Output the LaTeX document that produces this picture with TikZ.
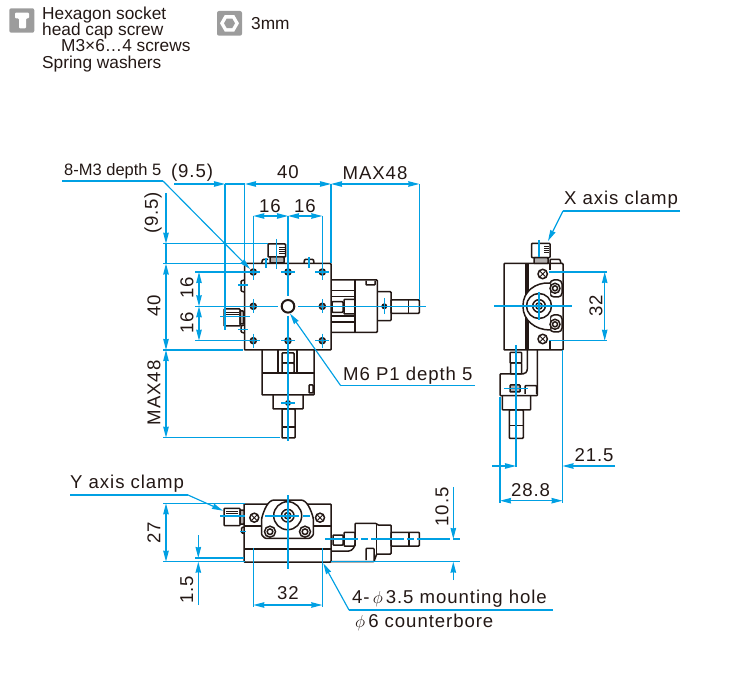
\documentclass[tikz,border=0pt]{standalone}
\usepackage{fontspec}
\setmainfont{Liberation Sans}
\newfontfamily\dimfont[LetterSpace=5]{Liberation Sans}
\usetikzlibrary{arrows.meta,shapes.geometric}

\definecolor{dimblue}{HTML}{00A0E3}
\definecolor{partblack}{HTML}{231815}
\definecolor{icongray}{HTML}{9C9C9C}

\tikzset{
  part/.style={draw=partblack,line width=1.5pt,rounded corners=0.8pt},
  thinpart/.style={draw=partblack,line width=0.9pt},
  dimline/.style={draw=dimblue,line width=1.15pt},
  dimarrow/.style={dimline,<->},
  leader/.style={dimline,->},
  dimlabel/.style={font=\dimfont\fontsize{18.6}{20}\selectfont,text=partblack,inner sep=0pt},
  dimhor/.style={dimlabel,yshift=-1.5pt},
  notelabel/.style={font=\fontsize{17.3}{16.3}\selectfont,text=partblack,inner sep=0pt},
  icon/.style={fill=icongray,rounded corners=2pt},
  centerline/.style={dimline,dash pattern=on 33pt off 3pt on 7pt off 3pt},
}

\begin{document}
\begin{tikzpicture}[x=1pt,y=-1pt,>={Stealth[length=11pt,width=5.5pt,inset=0.5pt]}]
  \useasboundingbox (0,0) rectangle (750,700);

  % icons and note
  \fill[icon] (9.3,8.3) rectangle (34.3,32.7);
  \fill[white,rounded corners=1pt] (15,12.7) -- (29,12.7) -- (29,18.3) -- (26,18.3) -- (26,28.3) -- (19,28.3) -- (19,18.3) -- (15,18.3) -- cycle;
  \node[notelabel,anchor=north west,align=left] (noteScrew) at (42,6.5) {Hexagon socket\\head cap screw\\\hspace*{19pt}M3×6…4 screws\\Spring washers};
  \fill[icon] (217,11) rectangle (242,35.7);
  \node[regular polygon,regular polygon sides=6,fill=white,minimum size=19pt,inner sep=0pt] (iconHexOut) at (229.5,23.3) {};
  \node[regular polygon,regular polygon sides=6,fill=icongray,minimum size=11pt,inner sep=0pt] (iconHexIn) at (229.5,23.3) {};
  \node[notelabel,anchor=west] (noteKey) at (251,24) {3mm};

  % top view
  \draw[part] (244.5,263.5) rectangle (331,350);
  \draw[part,fill=white] (268,244) rectangle (285.5,257);
  \draw[part,fill=partblack!35] (270,257) rectangle (284,263);
  \draw[part] (261.7,263.5) -- (262.5,259.5) -- (268,259.5);
  \draw[part] (304,263.5) -- (304.5,259.5) -- (313.5,259.5) -- (314,263.5);
  \foreach \yy in {247,249,251,253}
    \draw[thinpart,line width=0.5pt] (279,\yy) -- (285,\yy);
  \draw[part,fill=white] (224,309) rectangle (240,326);
  \draw[part,fill=partblack!35] (240,311) rectangle (243.5,324);
  \draw[part] (244,280) -- (241,281) -- (241,291) -- (244,292);
  \draw[part] (244,325) -- (241,326) -- (241,332) -- (244,333);
  \foreach \yy in {312,314,316}
    \draw[thinpart,line width=0.5pt] (226,\yy) -- (239,\yy);
  \foreach \xx in {253.3,288,322.3}
    \foreach \yy in {272,340.7}
      \draw[part,fill=partblack!60] (\xx,\yy) circle (3pt);
  \foreach \xx in {253.3,322.3}
    \draw[part,fill=partblack!60] (\xx,306.3) circle (3pt);
  \draw[draw=partblack,line width=2pt] (288,306.3) circle (6.3pt);

  % x stage of the top view
  \draw[part] (331,280) -- (377.3,280) -- (377.3,332.3) -- (331,332.3);
  \draw[part] (355,280) -- (355,332.3);
  \draw[part] (331,290.7) -- (355,290.7) (331,296.7) -- (355,296.7);
  \draw[part] (331,316) -- (355,316) (331,322) -- (355,322);
  \draw[part] (332,301.7) rectangle (343,312.3);
  \draw[part] (344,299.3) rectangle (355,314);
  \draw[part] (366,280.7) -- (366,285) -- (375,285) -- (375,280.7);
  \draw[part] (377.3,291.7) -- (391,291.7) -- (391,320.7) -- (377.3,320.7);
  \draw[part] (391,300) rectangle (419.3,313.3);
  \draw[part] (408.3,300) -- (408.3,313.3);
  \fill[partblack] (384.3,306.3) circle (3pt);

  % y stage of the top view
  \draw[part] (262,350) -- (262,395) -- (314,395) -- (314,350);
  \draw[part] (262,373) -- (314,373);
  \draw[part] (278,350) -- (278,373) (297,350) -- (297,373);
  \draw[part] (282,353) rectangle (294,363);
  \draw[part] (282,363) rectangle (294,373);
  \draw[part] (309,385) rectangle (313,393);
  \draw[part] (273,395) -- (273,409) -- (303,409) -- (303,395);
  \draw[part] (282,409) rectangle (295,438);
  \draw[part] (282,427) -- (295,427);
  \fill[partblack] (288,403) circle (3pt);

  % side view
  \draw[part] (504,263.5) rectangle (563,350);
  \draw[part] (526,263.5) -- (526,350);
  \draw[part] (528,263.5) -- (528,350);
  \draw[part] (550,263.5) -- (550,270) (550,341) -- (550,350);
  \draw[part,fill=white] (531.7,243.3) rectangle (550,257.7);
  \draw[part,fill=partblack!35] (534,257.7) rectangle (548,263.5);
  \draw[part] (550,263.5) -- (550,259.5) -- (560,259.5) -- (561,263.5);
  \foreach \yy in {246,248,250,252}
    \draw[thinpart,line width=0.5pt] (544,\yy) -- (549,\yy);
  \draw[part,rounded corners=4pt,fill=white] (550,280) -- (562,280) -- (562,297) -- (550,297) -- cycle;
  \draw[part,rounded corners=4pt,fill=white] (550,315) -- (562,315) -- (562,332) -- (550,332) -- cycle;
  \draw[part,fill=white] (550,283) .. controls (535,282) and (523,292) .. (523,306) .. controls (523,320) and (535,330) .. (550,330);
  \draw[part] (539,306) circle (12.5pt);
  \draw[part] (539,306) circle (6.3pt);
  \draw[part] (539,306) circle (3.2pt);
  \foreach \yy in {288.3,324.3}
    {\draw[part,fill=white] (555,\yy) circle (5pt);
     \draw[part] (555,\yy) circle (2.5pt);}
  \foreach \yy in {274,339}
    {\draw[part,fill=white] (542.7,\yy) circle (4.7pt);
     \draw[thinpart] (540,\yy-2.7) -- (545.4,\yy+2.7) (540,\yy+2.7) -- (545.4,\yy-2.7);}

  % y stage of the side view
  \draw[part] (527.3,350) -- (527.3,368) .. controls (527.3,372) and (525,374) .. (522,374) -- (500,374) -- (500,395.7) -- (537.3,395.7) -- (537.3,350);
  \draw[part] (510,352.3) rectangle (521.7,363);
  \draw[part] (510.5,363) rectangle (521.7,374);
  \draw[part] (525,394) -- (525,385.7) -- (536.7,385.7) -- (536.7,394);
  \draw[part,fill=partblack!35] (510,385) rectangle (520,392);
  \draw[part] (502.3,395.7) -- (502.3,410) -- (530.7,410) -- (530.7,395.7);
  \draw[part] (509.3,410) rectangle (523.3,438.3);
  \draw[part] (509.3,425.7) -- (523.3,425.7);

  % front view
  \draw[part] (244,504) rectangle (331,562);
  \draw[part] (244,549) -- (331,549);
  \draw[part] (244,526) -- (262,526) (313,526) -- (331,526);
  \draw[part,fill=white] (261.7,535) -- (261.7,518.3) .. controls (264,510) and (268,500) .. (275,500) -- (300,500) .. controls (307,500) and (311,510) .. (313.3,518.3) -- (313.3,535) -- (310,538.3) -- (265,538.3) -- cycle;
  \draw[part] (287.7,515.7) circle (14pt);
  \draw[part] (287.7,515.7) circle (6.3pt);
  \draw[part] (287.7,515.7) circle (3.2pt);
  \foreach \xx in {270,305}
    {\draw[part,fill=white] (\xx,531.7) circle (5.5pt);
     \draw[part] (\xx,531.7) circle (2.8pt);}
  \foreach \xx in {254.3,320}
    {\draw[part,fill=white] (\xx,517.7) circle (4.5pt);
     \draw[thinpart] (\xx-2.7,515) -- (\xx+2.7,520.4) (\xx-2.7,520.4) -- (\xx+2.7,515);}
  \draw[part,fill=white] (224,508.3) rectangle (240,525.7);
  \draw[part,fill=partblack!35] (240,510) rectangle (244,524);
  \draw[part] (244,527) -- (241.7,527.5) -- (241.7,533) -- (244,533);
  \foreach \yy in {511,513,515}
    \draw[thinpart,line width=0.5pt] (226,\yy) -- (238,\yy);

  % x stage of the front view
  \draw[part] (331,551) -- (348,551) .. controls (352,551) and (355,547) .. (355,543) -- (355,523.3) -- (376,523.3) -- (377.7,525) -- (391,525) -- (391,554) -- (376.7,554) -- (374,561.7) -- (331,561.7);
  \draw[part] (376.7,523.3) -- (376.7,554);
  \draw[part] (333,535) rectangle (343,545);
  \draw[part] (344,532.3) rectangle (355,546);
  \draw[part] (366,560) -- (366,548.3) -- (374,548.3) -- (374,560);
  \draw[part] (391,532.3) rectangle (419.3,546);
  \draw[part] (409,532.3) -- (409,546);

  % dimensions of the top view
  \draw[leader] (174,184) -- (225,184);
  \draw[dimline] (225,184) -- (245,184);
  \draw[dimarrow] (245,184) -- (331,184);
  \draw[dimarrow] (331,184) -- (419.3,184);
  \draw[dimarrow] (253.3,216) -- (288,216);
  \draw[dimarrow] (288,216) -- (322.3,216);
  \draw[leader] (166,193) -- (166,243.7);
  \draw[dimline] (166,243.7) -- (166,263.5);
  \draw[dimarrow] (166,263.5) -- (166,350);
  \draw[dimarrow] (166,350) -- (166,437.7);
  \draw[dimarrow] (199,272) -- (199,306.3);
  \draw[dimarrow] (199,306.3) -- (199,340.7);
  \draw[dimline] (225,184) -- (225,330);
  \draw[dimline] (244.7,184) -- (244.7,263);
  \draw[dimline] (331,184) -- (331,263);
  \draw[dimline] (419.3,184) -- (419.3,300);
  \draw[dimline] (253.3,216) -- (253.3,280);
  \draw[dimline] (322.3,216) -- (322.3,280);
  \draw[dimline] (288,216) -- (288,296);
  \draw[dimline] (288,316) -- (288,441);
  \draw[dimline] (163,243.7) -- (268,243.7);
  \draw[dimline] (163,263.5) -- (244,263.5);
  \draw[dimline] (163,350) -- (243,350);
  \draw[dimline] (163,437.7) -- (280,437.7);
  \draw[dimline] (195,272) -- (260,272);
  \draw[dimline] (195,340.7) -- (260,340.7);
  \draw[dimline] (195,306.3) -- (278,306.3);
  \draw[dimline] (298,306.3) -- (426,306.3);
  \foreach \xx in {288,322.3}
    \draw[dimline] (\xx-7,272) -- (\xx+7,272) (\xx-7,340.7) -- (\xx+7,340.7);
  \foreach \xx in {288,253.3,322.3}
    \draw[dimline] (\xx,333.7) -- (\xx,347.7);
  \draw[dimline] (276.7,239) -- (276.7,269);
  \draw[dimline] (266,258) -- (266,268) (309,257) -- (309,268);
  \draw[dimline] (238,285) -- (248,285) (238,329.5) -- (248,329.5);
  \draw[dimline] (220,316.7) -- (250,316.7);
  \draw[dimline] (253.3,299.3) -- (253.3,313.3) (322.3,299.3) -- (322.3,313.3);
  \draw[dimline] (384.3,298) -- (384.3,314);
  \draw[dimline] (281,403) -- (295,403);

  \node[dimhor] (lab95x) at (192,171) {(9.5)};
  \node[dimhor] (lab40x) at (288,171) {40};
  \node[dimhor] (labMaxX) at (375,172) {MAX48};
  \node[dimhor] (lab16a) at (270,205) {16};
  \node[dimhor] (lab16b) at (305,205) {16};
  \node[dimlabel,rotate=90] (lab95y) at (153,213) {(9.5)};
  \node[dimlabel,rotate=90] (lab40y) at (154,306) {40};
  \node[dimlabel,rotate=90] (labMaxY) at (154,393) {MAX48};
  \node[dimlabel,rotate=90] (lab16c) at (187,288) {16};
  \node[dimlabel,rotate=90] (lab16d) at (187,322.7) {16};

  % leaders of the top view
  \node[notelabel,font=\fontsize{16.5}{18}\selectfont,anchor=west] (labM3) at (64,171) {8-M3 depth 5};
  \coordinate (elbowM3) at (163,181);
  \coordinate (tipM3) at (250,269);
  \draw[dimline] (62,181) -- (elbowM3);
  \draw[leader] (elbowM3) -- (tipM3);
  \node[dimhor,anchor=west] (labM6) at (343,374) {M6 P1 depth 5};
  \coordinate (elbowM6) at (340.7,385.7);
  \coordinate (tipM6) at (290,313.5);
  \draw[dimline] (475,385.7) -- (elbowM6);
  \draw[leader] (elbowM6) -- (tipM6);

  % dimensions of the side view
  \draw[dimline] (494,306) -- (572,306);
  \draw[dimline] (539,240) -- (539,257) (539,292) -- (539,320);
  \draw[dimarrow] (604.7,272) -- (604.7,340.7);
  \draw[dimline] (549,272) -- (607,272);
  \draw[dimline] (549,340.7) -- (607,340.7);
  \draw[dimline] (562.5,350) -- (562.5,503);
  \draw[dimline] (500,397) -- (500,503);
  \draw[dimline] (516,345) -- (516,467);
  \draw[dimline] (504,388.3) -- (528,388.3);
  \draw[leader] (492,466) -- (516,466);
  \draw[leader] (615,466) -- (562.5,466);
  \draw[dimarrow] (500,500.7) -- (562.5,500.7);
  \node[dimlabel,rotate=90] (lab32s) at (596,306) {32};
  \node[dimhor] (lab215) at (594,454) {21.5};
  \node[dimhor] (lab288) at (530.5,489) {28.8};
  \node[dimhor] (labClampX) at (621,198) {X axis clamp};
  \coordinate (elbowX) at (563,211);
  \coordinate (tipX) at (548,241);
  \draw[dimline] (680,211) -- (elbowX);
  \draw[leader] (elbowX) -- (tipX);

  % dimensions of the front view
  \draw[dimline] (288,495) -- (288,569);
  \draw[dimline] (220,516) -- (245,516) (265,516) -- (299,516) (303,516) -- (310,516);
  \draw[dimline] (240,531.7) -- (246,531.7);
  \draw[centerline] (325,539) -- (460,539);
  \draw[dimline] (331,561.7) -- (460,561.7);
  \draw[leader] (453.3,487) -- (453.3,539);
  \draw[leader] (453.3,580) -- (453.3,561.7);
  \draw[dimarrow] (166,503.3) -- (166,561.7);
  \draw[dimline] (163,503.3) -- (245,503.3);
  \draw[dimline] (163,561.7) -- (245,561.7);
  \draw[dimline] (195,558) -- (244,558);
  \draw[leader] (198.3,535) -- (198.3,558);
  \draw[leader] (198.3,605) -- (198.3,561.7);
  \draw[dimarrow] (253.3,605) -- (322.3,605);
  \draw[dimline] (253.3,548) -- (253.3,607);
  \draw[dimline] (322.3,548) -- (322.3,607);
  \node[dimlabel,rotate=90] (lab27) at (154,533) {27};
  \node[dimlabel,rotate=90] (lab15) at (186.7,590) {1.5};
  \node[dimlabel,rotate=90] (lab105) at (442,507) {10.5};
  \node[dimhor] (lab32f) at (288,592) {32};
  \node[dimhor,anchor=west] (labClampY) at (70,482) {Y axis clamp};
  \coordinate (elbowY) at (188,495);
  \coordinate (tipY) at (223,510.7);
  \draw[dimline] (70,495) -- (elbowY);
  \draw[leader] (elbowY) -- (tipY);
  \node[dimhor,anchor=west] (labHole) at (352,597) {4-\,$\phi$\,3.5 mounting hole};
  \node[dimhor,anchor=west] (labBore) at (355,621) {$\phi$\,6 counterbore};
  \coordinate (elbowH) at (349,610);
  \coordinate (tipH) at (323.3,563.3);
  \draw[dimline] (553,610) -- (elbowH);
  \draw[leader] (elbowH) -- (tipH);
\end{tikzpicture}
\end{document}
